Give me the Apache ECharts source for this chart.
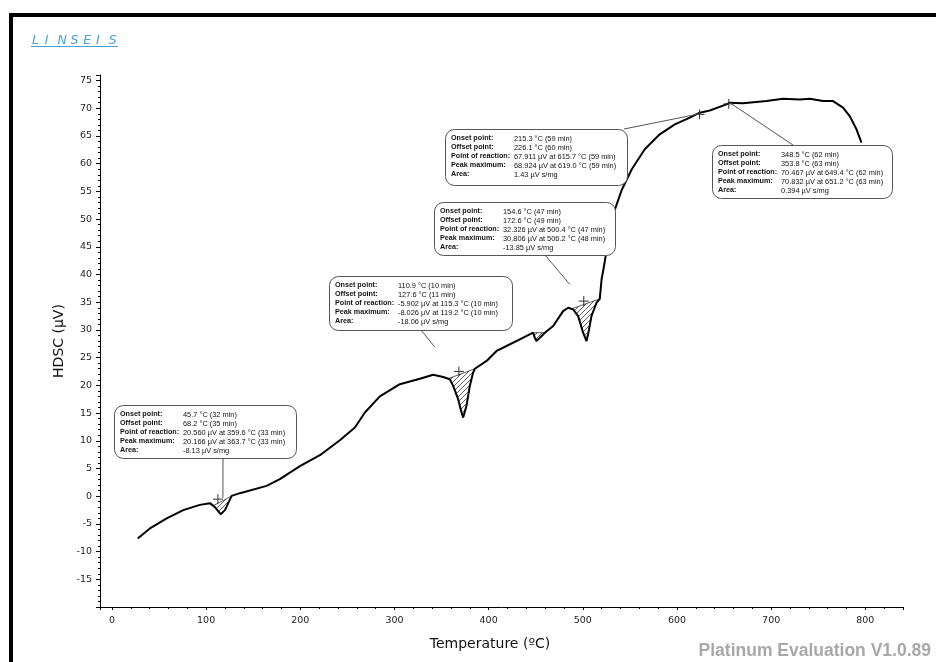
<!DOCTYPE html>
<html>
<head>
<meta charset="utf-8">
<script src="https://cdn.jsdelivr.net/npm/echarts@6/dist/echarts.min.js"></script>
<style>
  html, body { margin: 0; padding: 0; background: #fff; }
  #chart { width: 936px; height: 662px; }
</style>
</head>
<body>
<div id="chart"></div>
<script>
// HDSC signal versus temperature
const temperature = [27.3, 40.3, 58.1, 75.7, 93.4, 104.0, 109.3, 115.4, 120.0, 127.1, 135.9, 164.2, 178.3, 199.6, 220.8, 242.0, 258.0, 268.6, 284.5, 305.7, 327.0, 341.1, 351.7, 358.8, 362.3, 367.6, 371.2, 372.9, 376.5, 380.0, 383.5, 385.4, 397.8, 408.4, 419.0, 433.1, 447.2, 449.0, 450.8, 454.4, 459.7, 468.5, 479.1, 484.4, 489.7, 495.0, 500.3, 503.9, 505.6, 509.2, 514.5, 518.0, 519.9, 523.4, 528.7, 534.0, 541.4, 552.0, 565.8, 581.7, 597.7, 613.6, 624.2, 634.8, 652.5, 656.0, 670.2, 695.0, 712.6, 730.4, 741.0, 755.1, 765.7, 776.3, 783.4, 790.6, 795.9];
const hdsc = [-7.63, -5.82, -4.02, -2.52, -1.57, -1.26, -1.98, -3.25, -2.52, 0.05, 0.54, 1.86, 3.06, 5.41, 7.39, 10.1, 12.4, 15.1, 18.0, 20.2, 21.2, 21.9, 21.5, 21.1, 19.9, 17.5, 15.1, 14.2, 16.3, 19.9, 22.3, 23.0, 24.4, 26.2, 27.1, 28.3, 29.5, 28.6, 28.0, 28.6, 29.5, 30.7, 33.4, 34.0, 33.7, 32.5, 29.5, 28.0, 29.2, 32.5, 34.9, 35.6, 39.1, 42.4, 48.1, 51.7, 55.3, 59.0, 62.6, 65.3, 67.1, 68.3, 69.2, 69.6, 70.7, 71.0, 70.9, 71.3, 71.7, 71.6, 71.7, 71.3, 71.3, 70.1, 68.6, 66.2, 63.8];

// Evaluated peaks: integration limits (°C)
const peakStart = [107.5, 357.0, 447.2, 488.0];
const peakEnd = [127.0, 385.4, 459.7, 518.0];

// Reaction point markers
const markerT = [112.5, 368.4, 501.0, 624.0, 655.0];
const markerV = [-0.54, 22.5, 35.2, 68.9, 70.8];

// Evaluation boxes: anchor point on the plot and text rows
const annoAnchorT = [117.8, 342.9, 624.2, 486.2, 656.0];
const annoAnchorV = [-0.36, 26.9, 69.0, 38.2, 71.0];
const annoLabels = ['Onset point:', 'Offset point:', 'Point of reaction:', 'Peak maximum:', 'Area:'];
const annoValues = [
  ['45.7 °C (32 min)', '68.2 °C (35 min)', '20.560 µV at 359.6 °C (33 min)', '20.166 µV at 363.7 °C (33 min)', '-8.13 µV s/mg'],
  ['110.9 °C (10 min)', '127.6 °C (11 min)', '-5.902 µV at 115.3 °C (10 min)', '-8.026 µV at 119.2 °C (10 min)', '-18.06 µV s/mg'],
  ['215.3 °C (59 min)', '226.1 °C (60 min)', '67.911 µV at 615.7 °C (59 min)', '68.924 µV at 619.0 °C (59 min)', '1.43 µV s/mg'],
  ['154.6 °C (47 min)', '172.6 °C (49 min)', '32.326 µV at 500.4 °C (47 min)', '30.806 µV at 506.2 °C (48 min)', '-13.85 µV s/mg'],
  ['348.5 °C (62 min)', '353.8 °C (63 min)', '70.467 µV at 649.4 °C (62 min)', '70.832 µV at 651.2 °C (63 min)', '0.394 µV s/mg']
];
// box placement in pixels: [x, y, w, h, leaderX, leaderY]
const annoBoxes = [
  [114, 405, 182, 53, 223, 458],
  [329, 276, 183, 54, 421, 330],
  [445, 129, 182, 56, 624, 129],
  [434, 202, 181, 53, 545, 255],
  [712, 145, 180, 53, 793, 145]
];

const series = temperature.map((t, i) => [t, hdsc[i]]);

function interp(t) {
  for (let i = 1; i < temperature.length; i++) {
    if (t <= temperature[i]) {
      const t0 = temperature[i - 1], t1 = temperature[i];
      const f = (t - t0) / (t1 - t0);
      return hdsc[i - 1] + f * (hdsc[i] - hdsc[i - 1]);
    }
  }
  return hdsc[hdsc.length - 1];
}

function hatchPattern() {
  const c = document.createElement('canvas');
  c.width = 5; c.height = 5;
  const g = c.getContext('2d');
  g.strokeStyle = '#333';
  g.lineWidth = 0.8;
  g.beginPath();
  g.moveTo(0, 5); g.lineTo(5, 0);
  g.moveTo(-1, 1); g.lineTo(1, -1);
  g.moveTo(4, 6); g.lineTo(6, 4);
  g.stroke();
  return c;
}
const hatch = { image: hatchPattern(), repeat: 'repeat' };

const FONT = '"DejaVu Sans", sans-serif';
const chart = echarts.init(document.getElementById('chart'), null, { renderer: 'canvas' });

const logoLetters = 'LINSEIS'.split('');

chart.setOption({
  animation: false,
  backgroundColor: '#fff',
  grid: { left: 100, right: 33, top: 75, bottom: 55, containLabel: false },
  xAxis: {
    type: 'value',
    min: -12.7,
    max: 840,
    splitNumber: 9,
    axisLine: { show: true, onZero: false, lineStyle: { color: '#000', width: 1 } },
    axisTick: { show: true, length: 3, lineStyle: { color: '#000' } },
    minorTick: { show: true, splitNumber: 5, length: 2, lineStyle: { color: '#000' } },
    splitLine: { show: false },
    axisLabel: { color: '#222', fontFamily: FONT, fontSize: 9.5, margin: 9, showMinLabel: false, showMaxLabel: false }
  },
  yAxis: {
    type: 'value',
    min: -20,
    max: 76,
    interval: 5,
    axisLine: { show: true, onZero: false, lineStyle: { color: '#000', width: 1 } },
    axisTick: { show: true, length: 4, lineStyle: { color: '#000' } },
    minorTick: { show: true, splitNumber: 5, length: 2, lineStyle: { color: '#000' } },
    splitLine: { show: false },
    axisLabel: { color: '#222', fontFamily: FONT, fontSize: 9.5, margin: 8, showMinLabel: false, showMaxLabel: false }
  },
  graphic: [
    { type: 'rect', shape: { x: 11, y: 15, width: 960, height: 700 }, style: { fill: 'none', stroke: '#000', lineWidth: 4 }, z: 100 },
    ...logoLetters.map((ch, i) => ({
      type: 'text', x: 32 + i * 12.8, y: 34,
      style: { text: ch, font: 'italic 12.5px "DejaVu Sans"', fill: '#4a9fd6' }
    })),
    { type: 'line', shape: { x1: 31, y1: 46.5, x2: 118, y2: 46.5 }, style: { stroke: '#4a9fd6', lineWidth: 1.2 } },
    { type: 'text', x: 59, y: 341, rotation: Math.PI / 2,
      style: { text: 'HDSC (µV)', font: '14px "DejaVu Sans"', fill: '#111', align: 'center', verticalAlign: 'middle' } },
    { type: 'text', x: 490, y: 644,
      style: { text: 'Temperature (ºC)', font: '14px "DejaVu Sans"', fill: '#111', align: 'center', verticalAlign: 'middle' } },
    { type: 'text', x: 931, y: 651,
      style: { text: 'Platinum Evaluation V1.0.89', font: 'bold 17.5px "Liberation Sans"', fill: '#a8a8a8', align: 'right', verticalAlign: 'middle' } }
  ],
  series: [
    {
      type: 'custom',
      name: 'peak areas',
      data: peakStart.map((s, i) => [s, peakEnd[i]]),
      encode: { x: [0, 1] },
      z: 2,
      renderItem: function (params, api) {
        const s = api.value(0), e = api.value(1);
        const pts = [api.coord([s, interp(s)])];
        temperature.forEach((t, i) => { if (t > s && t < e) pts.push(api.coord([t, hdsc[i]])); });
        pts.push(api.coord([e, interp(e)]));
        return {
          type: 'polygon',
          shape: { points: pts },
          style: { fill: hatch, stroke: '#333', lineWidth: 0.8 }
        };
      }
    },
    {
      type: 'line',
      name: 'HDSC',
      data: series,
      showSymbol: false,
      symbol: 'none',
      smooth: false,
      z: 3,
      lineStyle: { color: '#000', width: 2 }
    },
    {
      type: 'custom',
      name: 'reaction points',
      data: markerT.map((t, i) => [t, markerV[i]]),
      z: 4,
      renderItem: function (params, api) {
        const p = api.coord([api.value(0), api.value(1)]);
        const r = 5;
        return {
          type: 'group',
          children: [
            { type: 'line', shape: { x1: p[0] - r, y1: p[1], x2: p[0] + r, y2: p[1] }, style: { stroke: '#333', lineWidth: 1 } },
            { type: 'line', shape: { x1: p[0], y1: p[1] - r, x2: p[0], y2: p[1] + r }, style: { stroke: '#333', lineWidth: 1 } }
          ]
        };
      }
    },
    {
      type: 'custom',
      name: 'evaluation',
      data: annoAnchorT.map((t, i) => [t, annoAnchorV[i]]),
      z: 10,
      clip: false,
      renderItem: function (params, api) {
        const i = params.dataIndex;
        const p = api.coord([api.value(0), api.value(1)]);
        const b = annoBoxes[i];
        const children = [
          { type: 'line', shape: { x1: b[4], y1: b[5], x2: p[0], y2: p[1] }, style: { stroke: '#555', lineWidth: 1 } },
          { type: 'rect', shape: { x: b[0] + 0.5, y: b[1] + 0.5, width: b[2], height: b[3], r: 9 }, style: { fill: '#fff', stroke: '#555', lineWidth: 1 } }
        ];
        annoLabels.forEach((lab, k) => {
          const y = b[1] + 9.5 + k * 9;
          children.push({ type: 'text', x: b[0] + 6, y: y, style: { text: lab, font: 'bold 7.2px "Liberation Sans"', fill: '#111', verticalAlign: 'middle' } });
          children.push({ type: 'text', x: b[0] + 69, y: y, style: { text: annoValues[i][k], font: '7.4px "Liberation Sans"', fill: '#111', verticalAlign: 'middle' } });
        });
        return { type: 'group', children: children };
      }
    }
  ]
});
</script>
</body>
</html>
